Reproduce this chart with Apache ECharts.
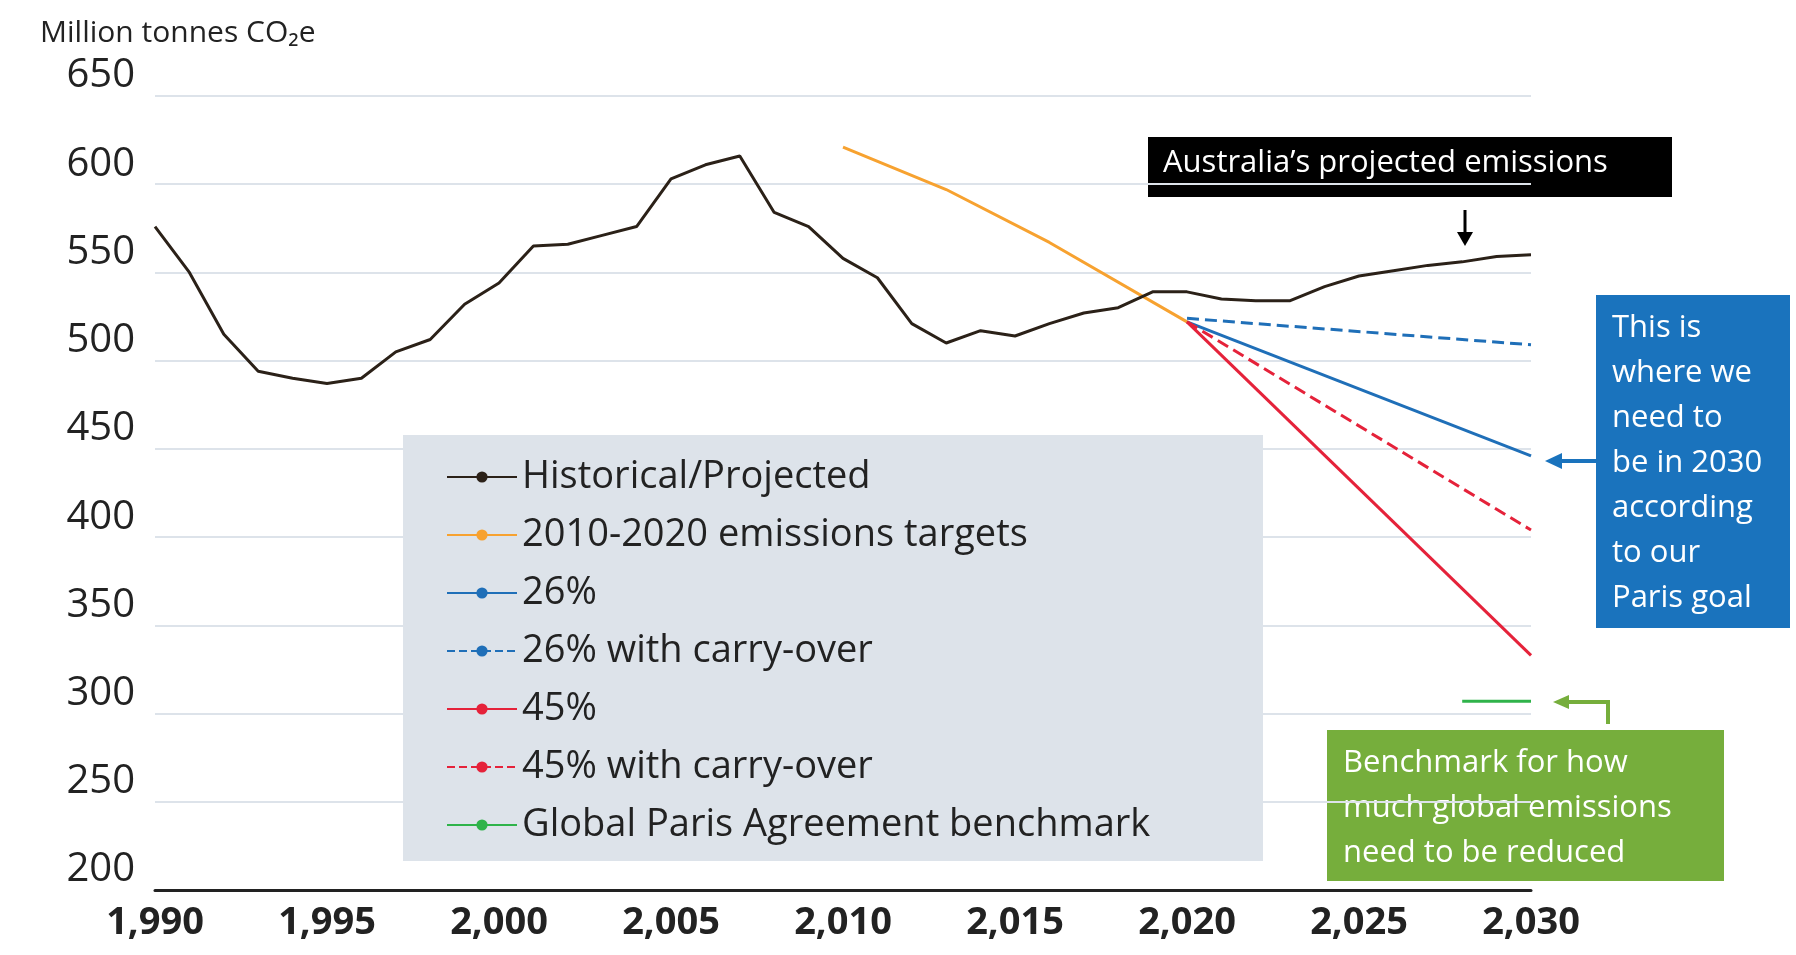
<!DOCTYPE html>
<html><head><meta charset="utf-8">
<script src="https://cdn.jsdelivr.net/npm/echarts@6/dist/echarts.min.js"></script>
<style>html,body{margin:0;padding:0;background:#fff}#c{width:1796px;height:955px}</style>
</head><body><div id="c"></div>
<script>
const years = [1990,1991,1992,1993,1994,1995,1996,1997,1998,1999,2000,2001,2002,2003,2004,2005,2006,2007,2008,2009,2010,2011,2012,2013,2014,2015,2016,2017,2018,2019,2020,2021,2022,2023,2024,2025,2026,2027,2028,2029,2030];
const historical = [576,550,515,494,490,487,490,505,512,532,544,565,566,571,576,603,611,616,584,576,558,547,521,510,517,514,521,527,530,539,539,535,534,534,542,548,551,554,556,559,560];
const targets2010 = [[2010,621],[2013,597],[2016,567],[2020,522]];
const p26 = [[2020,522],[2030,446]];
const p26carry = [[2020,524],[2030,509]];
const p45 = [[2020,522],[2030,333]];
const p45carry = [[2020,522],[2030,404]];
const paris = [[2028,307],[2030,307]];
const names = ['Historical/Projected','2010-2020 emissions targets','26%','26% with carry-over','45%','45% with carry-over','Global Paris Agreement benchmark'];
const F = '"Open Sans", "Noto Sans", sans-serif';
const chart = echarts.init(document.getElementById('c'));
function ln(name,data,color,type,z){return {name,type:'line',data,showSymbol:false,symbol:'none',smooth:false,z:z||3,lineStyle:{color,width:3,type:type||'solid'},itemStyle:{color}};}
chart.setOption({
  animation:false,
  textStyle:{fontFamily:F},
  grid:{left:155,right:265,top:96,bottom:65},
  xAxis:{type:'value',min:1990,max:2030,interval:5,
    axisLine:{lineStyle:{color:'#222',width:3}},axisTick:{show:false},splitLine:{show:false},
    axisLabel:{color:'#222',fontSize:38,fontWeight:'bold',margin:14,fontFamily:F}},
  yAxis:{type:'value',min:200,max:650,interval:50,
    axisLine:{show:false},axisTick:{show:false},
    splitLine:{lineStyle:{color:'#dde3ea',width:2}},
    axisLabel:{color:'#222',fontSize:40,margin:20,verticalAlign:'bottom',fontFamily:F}},
  legend:{orient:'vertical',left:441,top:453,itemWidth:70,itemHeight:14,itemGap:20,
    data:names,textStyle:{fontSize:38,color:'#222',fontFamily:F},selectedMode:false},
  graphic:[
    {type:'rect',left:403,top:435,z:1,shape:{width:860,height:426},style:{fill:'#dde3ea'}},
    {type:'text',left:40,top:18,style:{text:'Million tonnes CO₂e',fontSize:30,fill:'#222',fontFamily:F}},
    {type:'rect',left:1148,top:137,shape:{width:524,height:60},style:{fill:'#000'}},
    {type:'text',left:1163,top:148,style:{text:'Australia’s projected emissions',fontSize:31,fill:'#fff',fontFamily:F}},
    {type:'line',shape:{x1:1465,y1:210,x2:1465,y2:236},style:{stroke:'#000',lineWidth:3}},
    {type:'polygon',shape:{points:[[1457,232],[1473,232],[1465,246]]},style:{fill:'#000'}},
    {type:'rect',left:1596,top:295,shape:{width:194,height:333},style:{fill:'#1a73bd'}},
    {type:'text',left:1612,top:306,style:{text:'This is\nwhere we\nneed to\nbe in 2030\naccording\nto our\nParis goal',fontSize:31,lineHeight:45,fill:'#fff',fontFamily:F}},
    {type:'line',shape:{x1:1600,y1:461,x2:1558,y2:461},style:{stroke:'#1a73bd',lineWidth:4}},
    {type:'polygon',shape:{points:[[1545,461],[1562,453],[1562,469]]},style:{fill:'#1a73bd'}},
    {type:'rect',left:1327,top:730,shape:{width:397,height:151},style:{fill:'#76ae3c'}},
    {type:'text',left:1343,top:741,style:{text:'Benchmark for how\nmuch global emissions\nneed to be reduced',fontSize:31,lineHeight:45,fill:'#fff',fontFamily:F}},
    {type:'polyline',shape:{points:[[1608,724],[1608,702],[1566,702]]},style:{stroke:'#76ae3c',lineWidth:4,fill:null}},
    {type:'polygon',shape:{points:[[1553,702],[1569,695],[1569,709]]},style:{fill:'#76ae3c'}}
  ],
  series:[
    ln(names[0],years.map((y,i)=>[y,historical[i]]),'#2b2118',null,5),
    ln(names[1],targets2010,'#f7a230'),
    ln(names[2],p26,'#1f6fb8'),
    ln(names[3],p26carry,'#1f6fb8','dashed'),
    ln(names[4],p45,'#e5223a'),
    ln(names[5],p45carry,'#e5223a','dashed'),
    ln(names[6],paris,'#2fb34a')
  ]
});
</script></body></html>
